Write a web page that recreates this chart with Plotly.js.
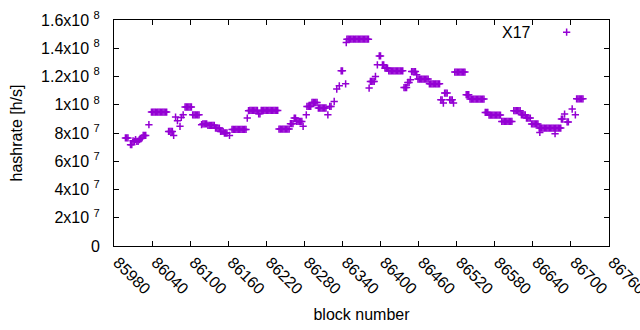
<!DOCTYPE html>
<html>
<head>
<meta charset="utf-8">
<script src="https://cdn.plot.ly/plotly-3.0.1.min.js"></script>
<style>html,body{margin:0;padding:0;background:#fff;}#chart{width:640px;height:330px;}</style>
</head>
<body>
<div id="chart"></div>
<script>
// block numbers
const blocks = [
85998,86000,86002,86006,86008,86010,86012,86014,86016,86018,86020,86022,86024,86026,86028,86030,86035,
86039,86041,86043,86045,86047,86049,86051,86053,86055,86057,86059,86061,86063,
86066,86068,86070,86072,86074,86077,86080,86084,86086,86089,
86092,86094,86096,86098,86100,86102,
86104,86106,86108,86110,86112,86114,
86118,86120,86122,86124,86126,
86128,86130,86132,86134,86136,86138,
86140,86142,86144,86146,86148,86150,86152,86154,86156,86158,86162,
86166,86168,86170,86172,86174,86176,86178,86180,86182,86184,86186,86188,
86190,86192,
86194,86196,86198,86200,86202,86204,86206,86208,86210,
86212,86214,86216,86218,86220,86222,86224,86226,86228,86230,86232,86234,86236,86238,
86240,86242,86244,86246,86248,86250,86252,86254,86256,
86258,86260,86262,86264,86266,86268,86270,86272,86274,86276,86278,86283,
86284,86286,86288,86290,86292,86294,86296,86298,86300,
86302,86304,86306,86308,86310,86312,86314,86317,86320,86322,86327,86331,86335,86338,86340,86345,86346,
86347,86349,86351,86353,86355,86357,86359,86361,86363,86365,86367,86369,86371,86373,86375,86377,86379,86381,
86382,86384,86386,86388,86390,86392,86395,86398,86400,86403,86405,86407,86409,86411,
86413,86415,86417,86419,86421,86423,86425,86427,86429,86431,86433,86435,
86437,86439,86441,86443,86445,86447,86449,86451,86453,86455,86457,
86459,86461,86463,86465,86467,86469,86471,86473,86475,
86477,86479,86481,86483,86485,86487,86489,86491,86493,
86495,86497,86499,86501,86503,86505,86509,86511,86513,86515,
86517,86519,86521,86523,86525,86527,86529,86531,86533,
86535,86537,86539,
86541,86543,86545,86547,86549,86551,86553,86555,86557,86559,86561,86563,
86565,86567,86569,
86571,86573,86575,86577,86579,86581,86583,86585,86587,86589,
86591,86593,86595,86597,86599,86601,86603,86605,86607,
86610,86612,86614,86616,86618,86620,
86622,86624,86626,86628,
86630,86632,86634,86636,
86638,86640,86642,86644,86646,86648,
86650,86651,86652,86654,86656,86658,86660,86662,86664,86666,86668,86670,86672,86674,86675,86676,86678,86680,86682,86684,
86685,86687,86690,86694,86696,86702,86707,
86709,86711,86713,86715,86717,86719
];

// hashrate in millions of h/s
const hashrateMHs = [
76.5,76.5,76.5,71.7,71.7,74.5,74.0,75.3,74.0,74.0,75.3,76.0,76.5,78.3,78.3,78.3,85.9,
94.8,94.8,94.8,94.8,94.8,94.8,94.8,94.8,94.8,94.8,94.8,94.8,94.8,
81.1,81.1,81.1,81.1,78.3,91.3,88.7,84.7,91.0,92.9,
98.4,98.4,98.4,98.4,98.4,98.4,
92.9,92.9,92.9,92.9,92.9,92.9,
85.9,86.4,86.4,86.4,86.4,
85.4,85.4,85.4,85.4,85.4,85.4,
83.5,83.5,83.5,83.5,81.1,81.1,81.1,80.0,80.0,80.0,78.3,
82.5,82.5,82.5,82.5,82.5,82.5,82.5,82.5,82.5,82.5,82.5,82.5,
90.6,95.8,
96.0,96.0,96.0,96.0,96.0,96.0,96.0,93.6,93.6,
96.0,96.0,96.0,96.0,96.0,96.0,96.0,96.0,96.0,96.0,96.0,96.0,96.0,96.0,
82.8,82.8,82.8,82.8,82.8,82.8,82.8,82.8,82.8,
86.6,86.6,86.6,90.6,90.6,88.2,88.2,88.2,88.2,88.2,84.7,92.9,
98.8,98.8,98.8,98.8,101.6,101.6,101.6,101.6,101.6,
97.7,97.7,97.7,97.7,97.7,97.7,97.7,92.9,98.8,98.8,102.3,111.1,113.4,124.0,124.0,114.8,144.0,
146.4,146.4,146.4,146.4,146.4,146.4,146.4,146.4,146.4,146.4,146.4,146.4,146.4,146.4,146.4,146.4,146.4,146.4,
111.8,116.5,116.5,116.5,116.5,120.0,128.3,134.6,134.6,128.3,128.3,125.9,125.9,125.9,
124.0,124.0,124.0,124.0,124.0,124.0,124.0,124.0,124.0,124.0,124.0,124.0,
112.2,112.2,112.2,115.8,115.8,117.7,123.5,123.5,123.5,123.5,121.2,
118.2,118.2,118.2,118.2,118.2,118.2,118.2,118.2,118.2,
114.8,114.8,114.8,114.8,114.8,114.8,114.8,114.8,114.8,
103.5,103.5,101.2,108.3,108.3,108.3,103.5,103.5,103.5,101.2,
123.1,123.1,123.1,123.1,123.1,123.1,123.1,123.1,123.1,
107.1,107.1,107.1,
104.0,104.0,104.0,104.0,104.0,104.0,104.0,104.0,104.0,104.0,104.0,104.0,
94.6,94.6,94.6,
92.7,92.7,92.7,92.7,92.7,92.7,92.7,92.7,92.7,92.7,
88.2,88.2,88.2,88.2,88.2,88.2,88.2,88.2,88.2,
95.8,95.8,95.8,95.8,95.8,95.8,
92.9,92.9,92.9,92.9,
90.6,90.6,90.6,90.6,
86.4,86.4,86.4,86.4,86.4,86.4,
83.5,80.4,83.5,83.5,83.5,83.5,83.5,83.5,83.5,83.5,83.5,83.5,83.5,83.5,79.5,83.5,83.5,83.5,83.5,83.5,
89.9,89.9,93.4,87.8,87.8,97.0,92.9,
104.2,104.2,104.2,104.2,104.2,104.2
];

const seriesName = "X17";
const xTickVals = [85980,86040,86100,86160,86220,86280,86340,86400,86460,86520,86580,86640,86700,86760];
const yTickVals = [0,2e7,4e7,6e7,8e7,1e8,1.2e8,1.4e8,1.6e8];
const yTickText = ["0","2x10 <sup>7</sup>","4x10 <sup>7</sup>","6x10 <sup>7</sup>","8x10 <sup>7</sup>",
                   "1x10 <sup>8</sup>","1.2x10 <sup>8</sup>","1.4x10 <sup>8</sup>","1.6x10 <sup>8</sup>"];

const color = "#9400D3";
const FONT = "Liberation Sans, Arial, sans-serif";

const trace = {
  x: blocks,
  y: hashrateMHs.map(v => v * 1e6),
  type: "scatter",
  mode: "markers",
  name: " ",
  marker: {symbol: "cross-thin", size: 5.2, color: color, line: {color: color, width: 1.5}},
  showlegend: true,
  hoverinfo: "x+y"
};

const layout = {
  width: 640, height: 330,
  margin: {l: 114, r: 31, t: 20, b: 83.5, pad: 0},
  paper_bgcolor: "#fff", plot_bgcolor: "#fff",
  font: {family: FONT, size: 16, color: "#000"},
  showlegend: true,
  legend: {x: 0.874, y: 1.021, xanchor: "left", yanchor: "top", bgcolor: "rgba(0,0,0,0)",
           font: {family: FONT, size: 16}, itemwidth: 30},
  xaxis: {
    range: [85980, 86760], tickvals: xTickVals, ticktext: xTickVals.map(String),
    tickangle: 45, ticks: "inside", ticklen: 5, tickcolor: "#000", tickwidth: 1,
    showline: true, linecolor: "#000", linewidth: 1, mirror: "ticks",
    showgrid: false, zeroline: false, ticklabeloverflow: "allow", ticklabelshift: 4,
    tickfont: {family: FONT, size: 16, color: "#000"},
    title: {text: "block number", font: {family: FONT, size: 16, color: "#000"}, standoff: 12}
  },
  yaxis: {
    range: [0, 1.6e8], tickvals: yTickVals, ticktext: yTickText,
    ticks: "inside", ticklen: 5, tickcolor: "#000", tickwidth: 1,
    showline: true, linecolor: "#000", linewidth: 1, mirror: "ticks",
    showgrid: false, zeroline: false, ticklabelstandoff: 10,
    tickfont: {family: FONT, size: 16, color: "#000"},
    title: {text: "hashrate [h/s]", font: {family: FONT, size: 16, color: "#000"}, standoff: 14}
  },
  annotations: [{
    text: seriesName, xref: "paper", yref: "paper", x: (533 - 114) / 495, y: 1 - (33 - 20) / 226.5,
    xanchor: "right", yanchor: "middle", showarrow: false,
    font: {family: FONT, size: 16, color: "#000"}
  }]
};

Plotly.newPlot("chart", [trace], layout, {staticPlot: true, displayModeBar: false});
</script>
</body>
</html>
